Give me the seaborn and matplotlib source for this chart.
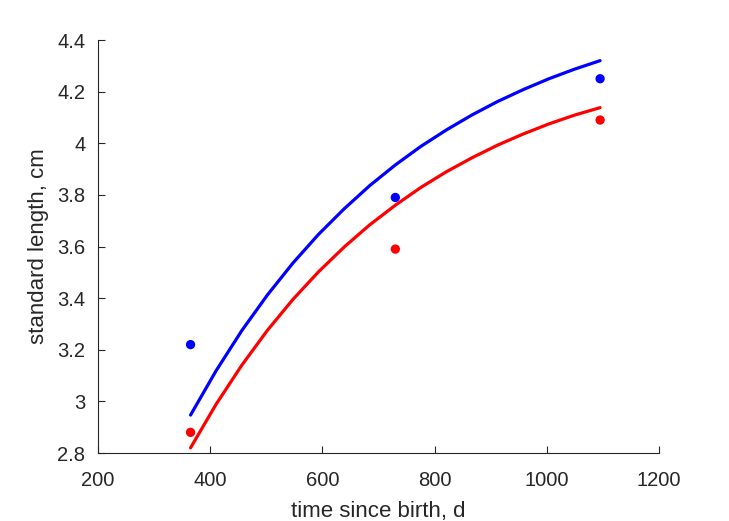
import matplotlib
matplotlib.use("Agg")
import matplotlib.pyplot as plt
import seaborn as sns
import pandas as pd

# observed points
obs_days = [365, 730, 1095]
obs_blue = [3.22, 3.79, 4.25]
obs_red = [2.88, 3.59, 4.09]

# fitted curves
fit_days = [365, 410.6, 456.3, 501.9, 547.5, 593.1, 638.8, 684.4, 730,
            775.6, 821.3, 866.9, 912.5, 958.1, 1003.8, 1049.4, 1095]
fit_blue = [2.947, 3.119, 3.274, 3.412, 3.536, 3.647, 3.746, 3.836, 3.916,
            3.988, 4.052, 4.110, 4.162, 4.208, 4.250, 4.287, 4.320]
fit_red = [2.820, 2.989, 3.140, 3.275, 3.395, 3.502, 3.598, 3.684, 3.760,
           3.829, 3.890, 3.944, 3.993, 4.036, 4.075, 4.109, 4.138]

sns.set_style("white")
plt.rcParams['font.family'] = ['Liberation Sans', 'DejaVu Sans']

fig = plt.figure(figsize=(7.29, 5.21), dpi=100)
ax = fig.add_axes([0.1344, 0.1305, 0.7696, 0.7927])

fit_df = pd.DataFrame({
    "t": fit_days * 2,
    "L": fit_blue + fit_red,
    "g": ["blue"] * len(fit_days) + ["red"] * len(fit_days),
})
obs_df = pd.DataFrame({
    "t": obs_days * 2,
    "L": obs_blue + obs_red,
    "g": ["blue"] * len(obs_days) + ["red"] * len(obs_days),
})
pal = {"blue": "#0000ff", "red": "#ff0000"}

sns.lineplot(data=fit_df, x="t", y="L", hue="g", palette=pal, ax=ax,
             linewidth=2.3, legend=False, estimator=None, sort=True)
sns.scatterplot(data=obs_df, x="t", y="L", hue="g", palette=pal, ax=ax,
                s=45, linewidth=0, legend=False, zorder=3)

ax.set_xlim(200, 1200)
ax.set_ylim(2.8, 4.4)
ax.set_xticks([200, 400, 600, 800, 1000, 1200])
ax.set_yticks([2.8, 3.0, 3.2, 3.4, 3.6, 3.8, 4.0, 4.2, 4.4])
ax.set_yticklabels(["2.8", "3", "3.2", "3.4", "3.6", "3.8", "4", "4.2", "4.4"])
ax.set_xlabel("time since birth, d", fontsize=16, color="#262626", labelpad=8)
ax.set_ylabel("standard length, cm", fontsize=16, color="#262626", labelpad=6)

for s in ["top", "right"]:
    ax.spines[s].set_visible(False)
for s in ["left", "bottom"]:
    ax.spines[s].set_color("#262626")
    ax.spines[s].set_linewidth(0.8)
ax.tick_params(direction="in", length=5, width=0.8, colors="#262626",
               labelsize=14.5, left=True, bottom=True)
ax.tick_params(axis="x", pad=13)
ax.tick_params(axis="y", pad=9)

fig.savefig("out.png", dpi=100)
